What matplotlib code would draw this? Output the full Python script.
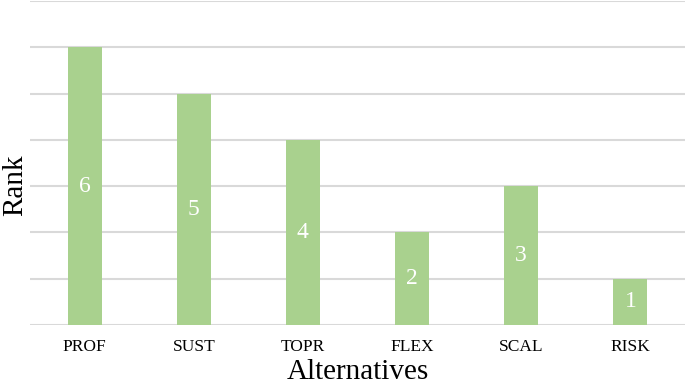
import matplotlib.pyplot as plt
import numpy as np

alternatives = ["PROF", "SUST", "TOPR", "FLEX", "SCAL", "RISK"]
ranks = [6, 5, 4, 2, 3, 1]


def main() -> None:
    plt.rcParams["font.family"] = ["Liberation Serif", "DejaVu Serif"]
    fig = plt.figure(figsize=(6.85, 3.9), dpi=100)
    ax = fig.add_axes([30 / 685, 65 / 390, 655 / 685, 324 / 390])

    x = np.arange(len(alternatives))
    bars = ax.bar(x, ranks, width=0.31, color="#a9d18e", zorder=3)
    for b, r in zip(bars, ranks):
        ax.text(b.get_x() + b.get_width() / 2, r / 2, str(r),
                ha="center", va="center", color="white", fontsize=17, zorder=4)

    ax.set_xlim(-0.5, len(alternatives) - 0.5)
    ax.set_ylim(0, 7)
    ax.set_yticks(np.arange(0, 8))
    ax.set_yticklabels([])
    ax.tick_params(axis="y", length=0)
    ax.tick_params(axis="x", length=0, labelsize=12.5, pad=10)
    ax.set_xticks(x)
    ax.set_xticklabels(alternatives)
    ax.grid(axis="y", color="#d9d9d9", linewidth=1.5, zorder=0)
    for s in ax.spines.values():
        s.set_visible(False)

    ax.set_xlabel("Alternatives", fontsize=21, labelpad=3)
    ax.set_ylabel("Rank", fontsize=21)
    ax.yaxis.set_label_coords(-2 / 655, 0.43)

    fig.savefig("out.png", dpi=100)


if __name__ == "__main__":
    main()
